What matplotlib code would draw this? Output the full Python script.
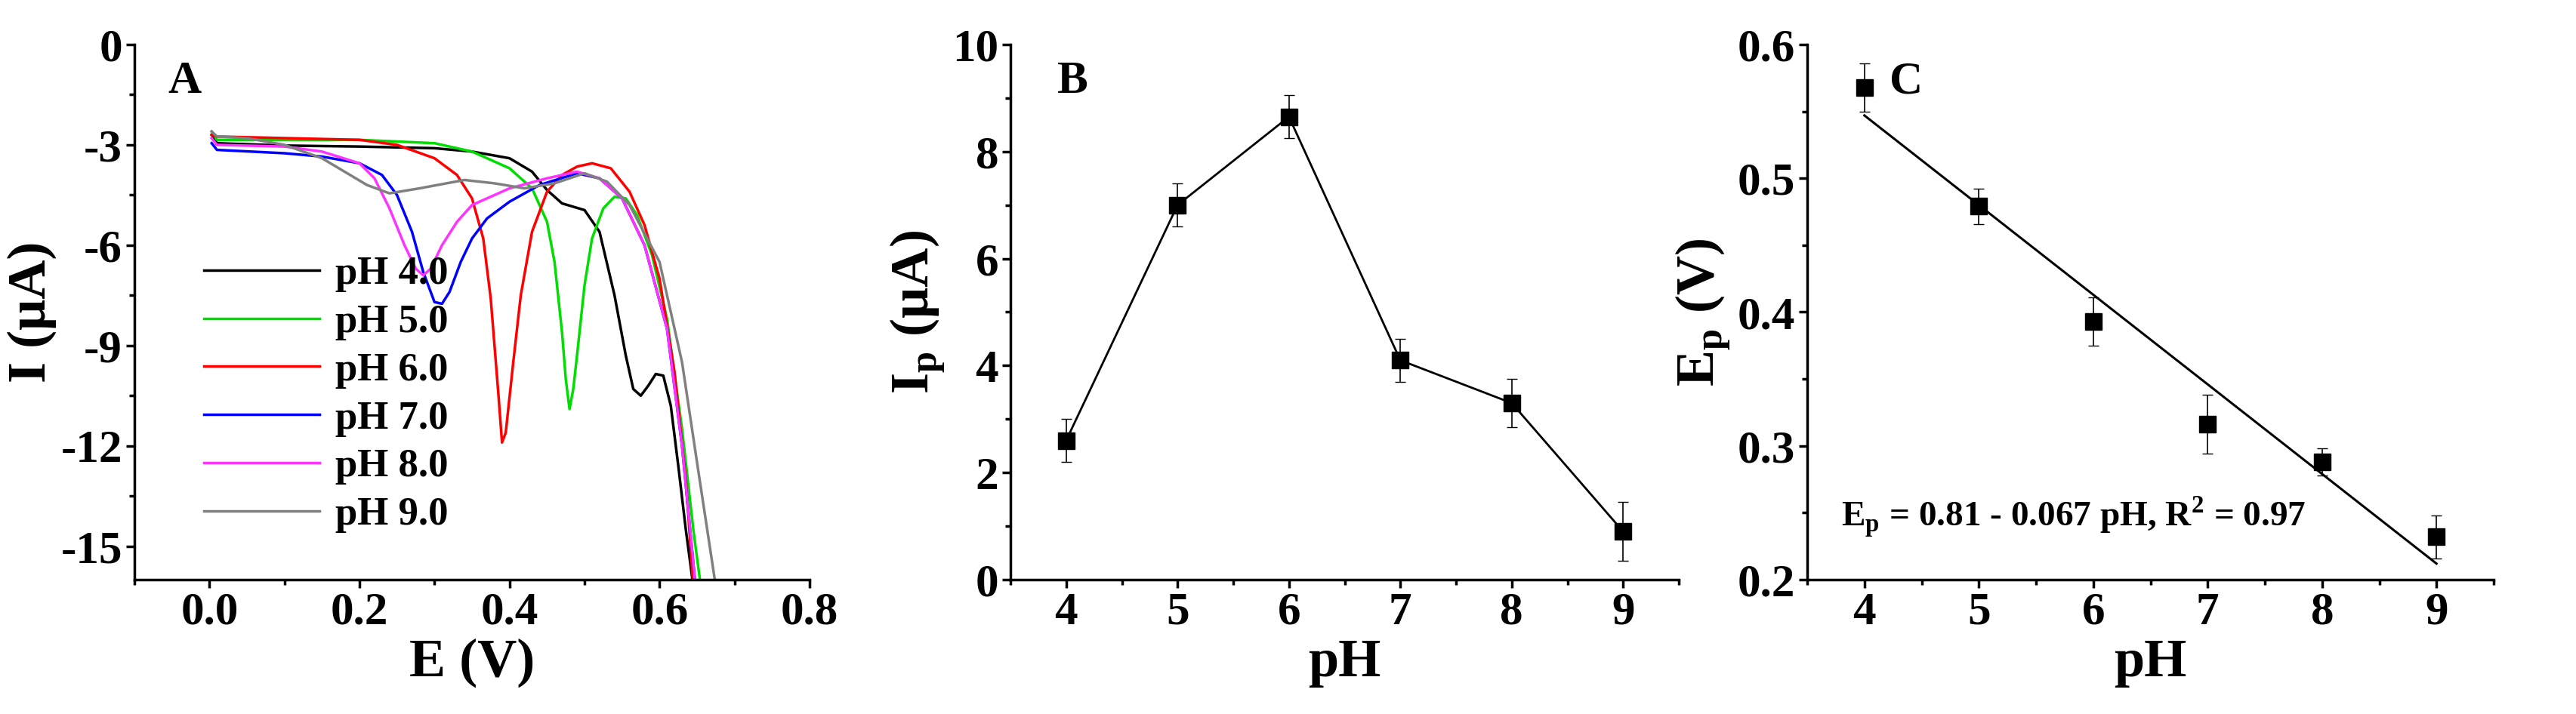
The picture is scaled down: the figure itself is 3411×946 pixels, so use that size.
import matplotlib
matplotlib.use("Agg")
import matplotlib.pyplot as plt
from matplotlib.ticker import MultipleLocator, AutoMinorLocator

plt.rcParams['font.family'] = ['Liberation Serif', 'DejaVu Serif']
plt.rcParams['font.weight'] = 'bold'
plt.rcParams['axes.unicode_minus'] = False
plt.rcParams['mathtext.fontset'] = 'custom'
plt.rcParams['mathtext.rm'] = 'Liberation Serif:bold'
plt.rcParams['mathtext.bf'] = 'Liberation Serif:bold'

# panel A: voltammograms (E in V, I in uA)
cv_labels = ['pH 4.0', 'pH 5.0', 'pH 6.0', 'pH 7.0', 'pH 8.0', 'pH 9.0']
cv_colors = ['black', '#00dd00', 'red', 'blue', '#ff33ff', 'gray']
cv_E = [
    [0.003, 0.01, 0.1, 0.2, 0.3, 0.35, 0.40, 0.43, 0.45, 0.47, 0.50, 0.52, 0.54, 0.555, 0.565, 0.575, 0.585, 0.595, 0.605, 0.615, 0.625, 0.635, 0.645],
    [0.003, 0.01, 0.2, 0.3, 0.35, 0.40, 0.43, 0.45, 0.46, 0.47, 0.475, 0.48, 0.485, 0.49, 0.50, 0.51, 0.525, 0.54, 0.555, 0.57, 0.59, 0.61, 0.63, 0.645, 0.655],
    [0.003, 0.01, 0.2, 0.25, 0.3, 0.33, 0.35, 0.365, 0.375, 0.385, 0.39, 0.395, 0.405, 0.415, 0.43, 0.45, 0.47, 0.49, 0.51, 0.535, 0.56, 0.58, 0.60, 0.62, 0.635, 0.645],
    [0.003, 0.01, 0.1, 0.15, 0.2, 0.23, 0.25, 0.27, 0.285, 0.30, 0.31, 0.32, 0.335, 0.35, 0.37, 0.40, 0.44, 0.49, 0.52, 0.55, 0.58, 0.61, 0.63, 0.648],
    [0.003, 0.01, 0.1, 0.15, 0.2, 0.22, 0.24, 0.26, 0.275, 0.285, 0.295, 0.31, 0.33, 0.35, 0.40, 0.45, 0.49, 0.52, 0.55, 0.58, 0.61, 0.63, 0.648],
    [0.003, 0.01, 0.05, 0.1, 0.15, 0.18, 0.21, 0.24, 0.28, 0.34, 0.38, 0.42, 0.46, 0.50, 0.53, 0.56, 0.60, 0.63, 0.65, 0.675],
]
cv_I = [
    [-2.7, -2.95, -3.02, -3.05, -3.1, -3.2, -3.4, -3.8, -4.35, -4.75, -4.95, -5.6, -7.5, -9.3, -10.3, -10.5, -10.2, -9.85, -9.9, -10.8, -12.6, -14.5, -16.2],
    [-2.6, -2.85, -2.85, -2.95, -3.2, -3.7, -4.3, -5.3, -6.5, -8.6, -10.0, -10.9, -10.3, -9.3, -7.2, -5.8, -4.9, -4.55, -4.6, -5.1, -6.3, -8.2, -11.5, -14.5, -16.2],
    [-2.7, -2.75, -2.85, -3.0, -3.4, -3.9, -4.6, -5.8, -7.6, -10.4, -11.9, -11.6, -9.5, -7.5, -5.6, -4.4, -3.9, -3.65, -3.55, -3.7, -4.4, -5.4, -7.0, -9.8, -13.0, -16.2],
    [-2.95, -3.15, -3.25, -3.35, -3.55, -3.9, -4.5, -5.6, -6.8, -7.7, -7.75, -7.4, -6.5, -5.8, -5.2, -4.7, -4.2, -3.85, -4.0, -4.6, -6.0, -8.5, -12.0, -16.2],
    [-2.8, -3.0, -3.05, -3.2, -3.55, -4.0, -4.9, -6.0, -6.7, -6.9, -6.7, -6.0, -5.3, -4.8, -4.3, -4.0, -3.8, -4.0, -4.6, -6.0, -8.5, -12.0, -16.2],
    [-2.6, -2.75, -2.8, -3.0, -3.4, -3.8, -4.2, -4.45, -4.3, -4.05, -4.15, -4.3, -4.15, -3.85, -4.1, -4.8, -6.5, -9.5, -12.5, -16.2],
]

# panel B / C
ph = [4, 5, 6, 7, 8, 9]
ip = [2.6, 7.0, 8.65, 4.1, 3.3, 0.9]
ip_err = [0.4, 0.4, 0.4, 0.4, 0.45, 0.55]
ep = [0.568, 0.479, 0.393, 0.316, 0.288, 0.232]
ep_err = [0.018, 0.013, 0.018, 0.022, 0.01, 0.016]
fit_ph = [4, 9]
fit_ep = [0.547, 0.212]

fig = plt.figure(figsize=(34.11, 9.46), dpi=100)
axA = fig.add_axes([178/3411, 1-768/946, 894/3411, 709/946])
axB = fig.add_axes([1338/3411, 1-768/946, 885/3411, 709/946])
axC = fig.add_axes([2393/3411, 1-768/946, 909/3411, 709/946])

for e, i, c, lab in zip(cv_E, cv_I, cv_colors, cv_labels):
    axA.plot(e, i, color=c, lw=2.5, label=lab)
axA.set_xlim(-0.1, 0.8)
axA.set_ylim(-16, 0)
axA.set_xticks([0.0, 0.2, 0.4, 0.6, 0.8])
axA.set_xticklabels(['0.0', '0.2', '0.4', '0.6', '0.8'])
axA.set_yticks([0, -3, -6, -9, -12, -15])
axA.set_xlabel('E (V)', fontsize=52, fontweight='bold')
axA.set_ylabel('I (\u03bcA)', fontsize=52, fontweight='bold')
axA.legend(loc='lower left', bbox_to_anchor=(0.05, 0.02), frameon=False,
           fontsize=38, handlelength=2.9, labelspacing=0.3, handletextpad=0.4)
axA.text(0.05, 0.97, 'A', transform=axA.transAxes, fontsize=44, fontweight='bold', va='top')

axB.errorbar(ph, ip, yerr=ip_err, color='black', marker='s', ms=16, lw=2,
             elinewidth=1.2, capsize=5)
axB.set_xlim(3.5, 9.5)
axB.set_ylim(0, 10)
axB.xaxis.set_major_locator(MultipleLocator(1))
axB.yaxis.set_major_locator(MultipleLocator(2))
axB.set_xlabel('pH', fontsize=52, fontweight='bold')
axB.set_ylabel('I$_\\mathregular{p}$ (\u03bcA)', fontsize=52, fontweight='bold')
axB.text(0.07, 0.97, 'B', transform=axB.transAxes, fontsize=44, fontweight='bold', va='top')

axC.errorbar(ph, ep, yerr=ep_err, color='black', marker='s', ms=16, ls='none',
             elinewidth=1.2, capsize=5)
axC.plot(fit_ph, fit_ep, color='black', lw=2.2)
axC.set_xlim(3.5, 9.5)
axC.set_ylim(0.2, 0.6)
axC.xaxis.set_major_locator(MultipleLocator(1))
axC.yaxis.set_major_locator(MultipleLocator(0.1))
axC.set_xlabel('pH', fontsize=52, fontweight='bold')
axC.set_ylabel('E$_\\mathregular{p}$ (V)', fontsize=52, fontweight='bold')
axC.text(0.12, 0.97, 'C', transform=axC.transAxes, fontsize=44, fontweight='bold', va='top')
axC.text(0.05, 0.1, 'E$_\\mathregular{p}$ = 0.81 - 0.067 pH, R$^\\mathregular{2}$ = 0.97',
         transform=axC.transAxes, fontsize=34, fontweight='bold')

for ax in (axA, axB, axC):
    ax.spines['top'].set_visible(False)
    ax.spines['right'].set_visible(False)
    for s in ('left', 'bottom'):
        ax.spines[s].set_linewidth(2.5)
    ax.xaxis.set_minor_locator(AutoMinorLocator(2))
    ax.yaxis.set_minor_locator(AutoMinorLocator(2))
    ax.tick_params(which='major', direction='out', length=8, width=2.5, labelsize=44)
    ax.tick_params(which='minor', direction='out', length=5, width=2.5)
    for t in ax.get_xticklabels() + ax.get_yticklabels():
        t.set_fontweight('bold')

fig.savefig('out.png', dpi=100)
